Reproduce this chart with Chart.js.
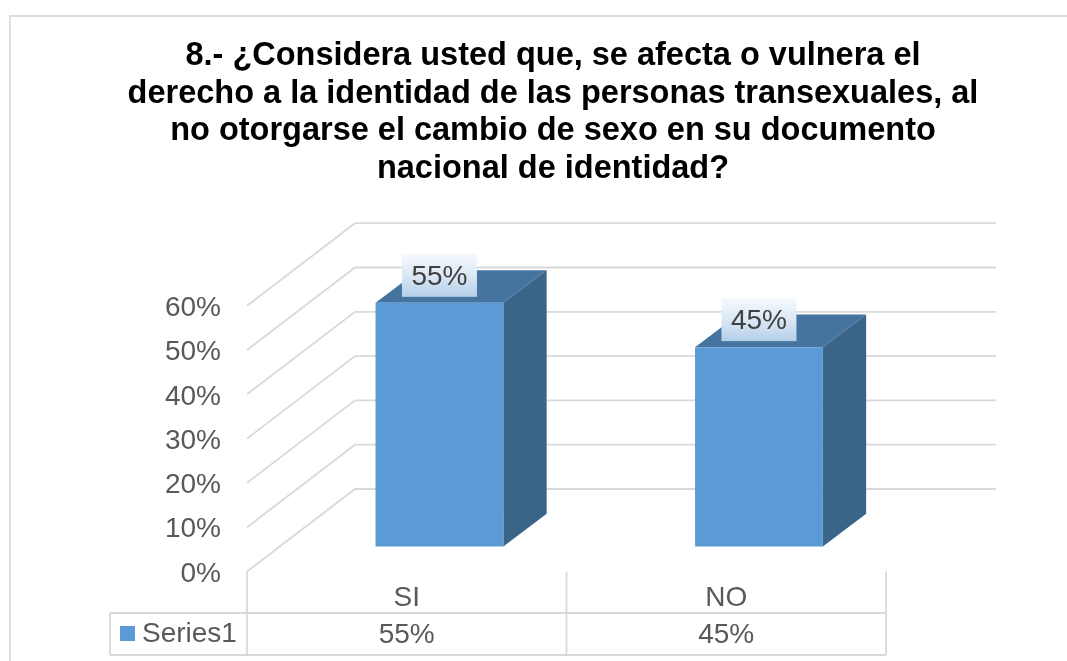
<!DOCTYPE html>
<html>
<head>
<meta charset="utf-8">
<style>
  html, body { margin: 0; background: #fff; overflow: hidden; }
  canvas { display: block; }
</style>
<script src="https://cdn.jsdelivr.net/npm/chart.js@4/dist/chart.umd.min.js"></script>
</head>
<body>
<canvas id="grafico" width="1067" height="661"></canvas>
<script>
const categorias = ["SI", "NO"];
const valores = [55, 45];
const nombreSerie = "Series1";
const titulo = [
    "8.- ¿Considera usted que, se afecta o vulnera el",
    "derecho a la identidad de las personas transexuales, al",
    "no otorgarse el cambio de sexo en su documento",
    "nacional de identidad?"
];

const fuente = "'Liberation Sans', Arial, sans-serif";
const tamano = 28;
const gris = "#d9d9d9";
const textoGris = "#595959";

// the chart area is the front plane of the 3D box, bars sit further back
const fondo = { dx: 108, dy: -82.5 };
const planoBarras = { dx: 32.7, dy: -25 };
const barra = { dx: 43.3, dy: -32.7 };
const derechaPared = 996;
const tablaArriba = 613, tablaAbajo = 655, tablaIzq = 110;
const centroTitulo = 553;

function linea(ctx, x1, y1, x2, y2) {
    ctx.beginPath();
    ctx.moveTo(x1, y1);
    ctx.lineTo(x2, y2);
    ctx.stroke();
}

const caja3d = {
    id: "caja3d",
    afterLayout(chart) {
        // title is centred on the frame, not on the canvas
        chart.titleBlock.left = 0;
        chart.titleBlock.right = centroTitulo * 2;
        // y labels sit a little under their tick in the original
        chart.scales.y.getLabelItems().forEach((it) => { it.options.translation[1] += 2.5; });
    },
    beforeDraw(chart) {
        const ctx = chart.ctx;
        ctx.save();
        ctx.fillStyle = "#fff";
        ctx.fillRect(0, 0, chart.width, chart.height);
        ctx.strokeStyle = "#dedede";
        ctx.lineWidth = 2;
        ctx.strokeRect(10, 16, 1200, 800);
        ctx.restore();
    },
    beforeDatasetsDraw(chart) {
        const ctx = chart.ctx;
        const { x, y } = chart.scales;

        // walls: one diagonal and one back line for every tick
        ctx.save();
        ctx.strokeStyle = gris;
        ctx.lineWidth = 1.8;
        y.ticks.forEach((t) => {
            const py = y.getPixelForValue(t.value);
            ctx.beginPath();
            ctx.moveTo(x.left, py);
            ctx.lineTo(x.left + fondo.dx, py + fondo.dy);
            ctx.lineTo(derechaPared, py + fondo.dy);
            ctx.stroke();
        });
        ctx.restore();

        // data table under the axis
        ctx.save();
        ctx.strokeStyle = gris;
        ctx.lineWidth = 1.8;
        const anchoCat = (x.right - x.left) / categorias.length;
        for (let i = 0; i <= categorias.length; i++) {
            const px = x.left + anchoCat * i;
            linea(ctx, px, y.bottom, px, tablaAbajo);
        }
        linea(ctx, tablaIzq, tablaArriba, x.right, tablaArriba);
        linea(ctx, tablaIzq, tablaAbajo, x.right, tablaAbajo);
        linea(ctx, tablaIzq, tablaArriba, tablaIzq, tablaAbajo);

        ctx.fillStyle = "#5b9bd5";
        ctx.fillRect(120, 626, 15, 15);
        ctx.fillStyle = textoGris;
        ctx.font = tamano + "px " + fuente;
        ctx.textBaseline = "middle";
        ctx.textAlign = "left";
        ctx.fillText(nombreSerie, 142, 634);
        ctx.textAlign = "center";
        valores.forEach((v, i) => {
            ctx.fillText(v + "%", x.getPixelForValue(i), 635);
        });
        ctx.restore();

        // native bars are moved to their plane, restored in afterDatasetsDraw
        ctx.save();
        ctx.translate(planoBarras.dx, planoBarras.dy);

        chart.getDatasetMeta(0).data.forEach((b) => {
            const izq = b.x - b.width / 2, der = b.x + b.width / 2;
            ctx.fillStyle = "#44749f";
            ctx.beginPath();
            ctx.moveTo(izq, b.y);
            ctx.lineTo(izq + barra.dx, b.y + barra.dy);
            ctx.lineTo(der + barra.dx, b.y + barra.dy);
            ctx.lineTo(der, b.y);
            ctx.closePath();
            ctx.fill();
            ctx.fillStyle = "#3a6488";
            ctx.beginPath();
            ctx.moveTo(der, b.y);
            ctx.lineTo(der + barra.dx, b.y + barra.dy);
            ctx.lineTo(der + barra.dx, b.base + barra.dy);
            ctx.lineTo(der, b.base);
            ctx.closePath();
            ctx.fill();
        });
    },
    afterDatasetsDraw(chart) {
        const ctx = chart.ctx;
        ctx.restore();

        // value labels with the gradient box
        ctx.save();
        chart.getDatasetMeta(0).data.forEach((b, i) => {
            const cx = b.x + planoBarras.dx;
            const abajo = b.y + planoBarras.dy - 6;
            const arriba = abajo - 43;
            const g = ctx.createLinearGradient(0, arriba, 0, abajo);
            g.addColorStop(0, "#f6f9fd");
            g.addColorStop(0.5, "#dbe8f5");
            g.addColorStop(1, "#b4cfe9");
            ctx.fillStyle = g;
            ctx.fillRect(cx - 37.5, arriba, 75, 43);
            ctx.fillStyle = "#404040";
            ctx.font = tamano + "px " + fuente;
            ctx.textAlign = "center";
            ctx.textBaseline = "middle";
            ctx.fillText(valores[i] + "%", cx, arriba + 23);
        });
        ctx.restore();
    }
};

new Chart("grafico", {
    type: "bar",
    data: {
        labels: categorias,
        datasets: [{
            label: nombreSerie,
            data: valores,
            backgroundColor: "#5b9bd5",
            barPercentage: 0.4,
            categoryPercentage: 1,
            clip: false
        }]
    },
    plugins: [caja3d],
    options: {
        responsive: false,
        animation: false,
        layout: { padding: { left: 0, right: 181, top: 16, bottom: 0 } },
        plugins: {
            legend: { display: false },
            tooltip: { enabled: false },
            title: {
                display: true,
                text: titulo,
                color: "#000",
                font: { family: fuente, size: 32.5, weight: "bold", lineHeight: 37.6 / 32.5 },
                padding: { top: 21.5, bottom: 117.8 }
            }
        },
        scales: {
            x: {
                grid: { display: false },
                border: { display: false },
                ticks: {
                    color: textoGris,
                    font: { family: fuente, size: tamano },
                    padding: 2,
                    maxRotation: 0,
                    autoSkip: false
                },
                afterFit(scale) { scale.height = 89.5; }
            },
            y: {
                min: 0,
                max: 60,
                grid: { display: false, drawTicks: false },
                border: { display: false },
                ticks: {
                    stepSize: 10,
                    color: textoGris,
                    font: { family: fuente, size: tamano },
                    padding: 26,
                    callback: (v) => v + "%"
                },
                afterFit(scale) { scale.width = 247; }
            }
        }
    }
});
</script>
</body>
</html>
